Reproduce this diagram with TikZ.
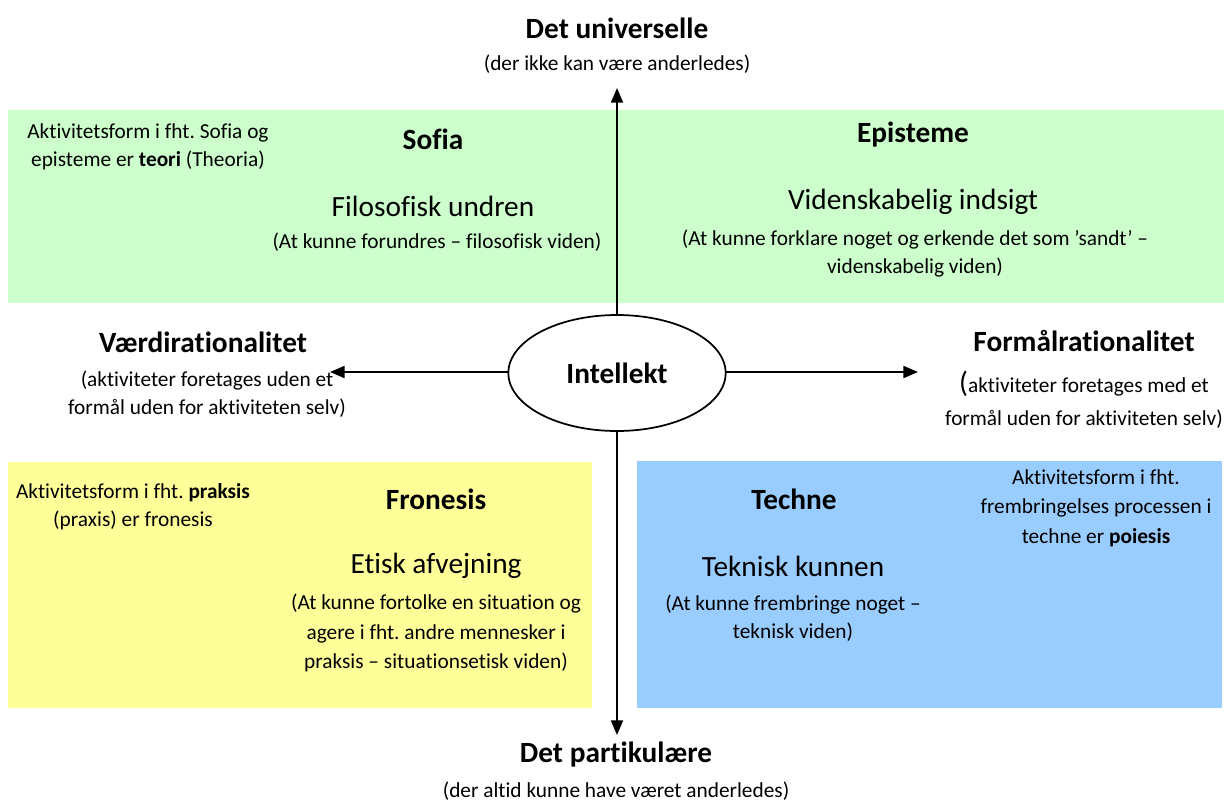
\documentclass[tikz,border=0pt]{standalone}
\usepackage{fontspec}
\setmainfont{Carlito}[Ligatures=NoCommon]
\frenchspacing
\usetikzlibrary{arrows.meta,shapes.geometric,backgrounds}
\begin{document}
\begin{tikzpicture}[x=0.75pt,y=-0.75pt,
  body/.style={align=center,inner sep=0pt,font=\fontsize{16}{21}\selectfont},
  head/.style={align=center,inner sep=0pt,font=\fontsize{22}{26}\selectfont\bfseries},
  big/.style={align=center,inner sep=0pt,font=\fontsize{22}{26}\selectfont},
  arr/.style={line width=1.5pt,-{Triangle[length=11pt,width=9pt]}}]
\useasboundingbox (0,0) rectangle (1226,801);
% ellipse
\node[ellipse,draw,line width=1.3pt,fill=white,inner sep=0pt,
      minimum width=163pt,minimum height=87pt] (ell) at (617,373) {};
\node[head] (intel) at (ell.center) {Intellekt};
\coordinate (top) at (617,88);
\coordinate (bot) at (617,735);
\coordinate (lft) at (330,372);
\coordinate (rgt) at (918,372);
\begin{scope}[on background layer]
\fill[fill={rgb,255:red,204;green,255;blue,204}] (8,110) rectangle (1224,303);
\fill[fill={rgb,255:red,255;green,255;blue,153}] (8,462) rectangle (592,708);
\fill[fill={rgb,255:red,153;green,204;blue,255}] (637,461) rectangle (1222,708);
\draw[arr] (ell.center -| top) -- (top);
\draw[arr] (ell.center -| bot) -- (bot);
\draw[arr] (ell.center |- lft) -- (lft);
\draw[arr] (ell.center |- rgt) -- (rgt);
\end{scope}
% top / bottom labels
\node[head] (univ) at (617,28) {Det universelle};
\node[body] (univs) at (617,64) {(der ikke kan være anderledes)};
\node[head] (part) at (616,754) {Det partikulære};
\node[body] (parts) at (616,791) {(der altid kunne have været anderledes)};
% green panel
\node[body] (teori) at (148,147) {Aktivitetsform i fht. Sofia og\\episteme er \textbf{teori} (Theoria)};
\node[head] (sofia) at (433,139) {Sofia};
\node[big] (filo) at (433,206) {Filosofisk undren};
\node[body] (filos) at (437,242) {(At kunne forundres – filosofisk viden)};
\node[head] (epi) at (913,135) {Episteme};
\node[big] (vid) at (913,202) {Videnskabelig indsigt};
\node[body] (vids) at (915,254) {(At kunne forklare noget og erkende det som ’sandt’ –\\videnskabelig viden)};
% middle
\node[head] (vaerd) at (203,342) {Værdirationalitet};
\node[body] (vaerds) at (207,394) {(aktiviteter foretages uden et\\formål uden for aktiviteten selv)};
\node[head] (form) at (1084,341) {Formålrationalitet};
\node[body,font=\fontsize{16}{25}\selectfont] (forms) at (1084,400) {{\fontsize{22}{22}\selectfont(}aktiviteter foretages med et\\formål uden for aktiviteten selv)};
% yellow panel
\node[body] (praks) at (133,507) {Aktivitetsform i fht. \textbf{praksis}\\(praxis) er fronesis};
\node[head] (fron) at (436,499) {Fronesis};
\node[big] (etisk) at (436,566) {Etisk afvejning};
\node[body,font=\fontsize{16}{22}\selectfont] (etisks) at (436,633) {(At kunne fortolke en situation og\\agere i fht. andre mennesker i\\praksis – situationsetisk viden)};
% blue panel
\node[head] (techne) at (794,499) {Techne};
\node[big] (tekn) at (793,566) {Teknisk kunnen};
\node[body] (tekns) at (793,618) {(At kunne frembringe noget –\\teknisk viden)};
\node[body,font=\fontsize{16}{22}\selectfont] (poi) at (1096,508) {Aktivitetsform i fht.\\frembringelses processen i\\techne er \textbf{poiesis}};
\end{tikzpicture}
\end{document}
